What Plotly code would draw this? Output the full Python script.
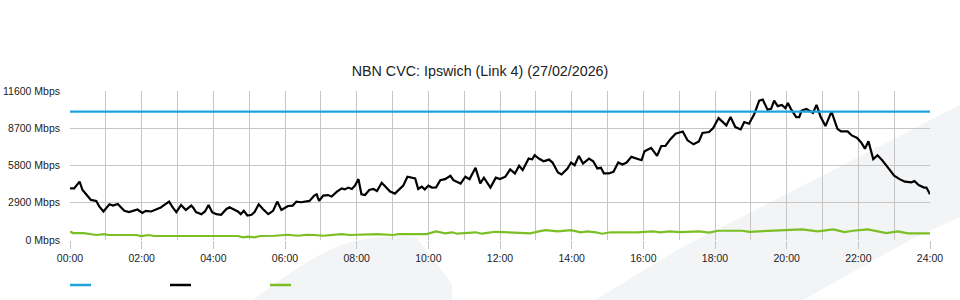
import plotly.graph_objects as go

# ---------------- data ----------------
capacity_minutes = [0, 1440]
capacity_mbps = [10000, 10000]

download_minutes = [
    0, 7, 16, 21, 27, 35, 44, 49, 56, 60, 66, 72, 80, 84, 91, 99, 105, 113, 121, 127,
    136, 144, 152, 158, 166, 172, 178, 186, 194, 203,
    206, 211, 220, 226, 232, 238, 245, 253, 262, 267, 275, 281, 286, 291, 297, 304, 309,
    316, 323, 332, 340, 347, 354, 360, 365, 373, 379, 387, 396, 401, 409,
    413, 417, 424, 432, 438, 447, 455, 460, 466, 472, 477, 483, 488, 494, 501, 508, 514,
    522, 529, 536, 544, 551, 558, 565, 572, 578, 583, 589, 594, 600, 606,
    613, 620, 628, 637, 642, 654, 662, 669, 679, 687, 693, 704, 713, 720, 729, 737, 745,
    752, 758, 768, 774, 778, 785, 793, 802, 808,
    817, 823, 833, 839, 845, 852, 859, 869, 876, 883, 889, 894, 902, 910, 918, 925, 932,
    940, 949, 957, 962, 973, 983, 990, 997, 1005, 1014, 1021,
    1026, 1034, 1044, 1053, 1059, 1070, 1077, 1086, 1093, 1099, 1106, 1114, 1123, 1129,
    1137, 1146, 1154, 1160, 1168, 1174, 1179, 1185, 1192, 1198, 1202, 1207, 1216, 1221,
    1225, 1233, 1244, 1250, 1257, 1265, 1275, 1285, 1291, 1302, 1309, 1318, 1325, 1331,
    1337, 1345, 1352, 1360, 1370, 1380, 1389, 1398, 1409, 1414, 1421, 1430, 1434, 1440,
]
download_mbps = [
    4020, 4020, 4540, 3890, 3560, 3120, 3040, 2610, 2220, 2420, 2780, 2680, 2810, 2610, 2270, 2170, 2270, 2370, 2110, 2270,
    2220, 2370, 2530, 2730, 2990, 2530, 2170, 2730, 2340, 2680,
    2530, 2170, 2010, 2220, 2730, 2170, 2010, 1960, 2420, 2550, 2340, 2220, 2010, 2270, 1910, 1960, 2170,
    2780, 2420, 2010, 2270, 2990, 2340, 2480, 2650, 2680, 2990, 2940, 3040, 3040, 3460,
    3560, 3040, 3460, 3500, 3380, 3770, 4020, 3940, 4080, 3970, 4230, 4740, 3560, 3500, 3890, 3970, 3810,
    4460, 4100, 3770, 3610, 3890, 4230, 4930, 4870, 4790, 3970, 4150, 3940, 4230, 4080,
    4100, 4660, 4740, 5000, 4660, 4390, 4930, 4740, 5620, 4410, 4850, 4080, 4850, 4740, 4930, 5490, 5180,
    5780, 5440, 6340, 6290, 6600, 6340, 6130, 6260, 6030,
    5260, 5100, 5570, 6030, 5820, 6550, 5950, 6340, 6130, 5570, 5620, 5180, 5180, 5310, 6030, 5880, 6030,
    6470, 6340, 6210, 6910, 7170, 6550, 7320, 7320, 7830, 8270, 8410,
    8450, 7760, 7450, 7680, 8330, 8410, 8720, 9490, 9180, 8920, 9570, 8790, 8610, 9180,
    9050, 9820, 10850, 10930, 10150, 10210, 10850, 10420, 10520, 10260, 10670, 10210, 9570, 9570,
    10080, 10210, 9900, 10520, 9570, 8870, 10000, 8660, 8450, 8450, 8140, 7940, 7580, 7110,
    7680, 6290, 6600, 6210, 5620, 5000, 4740, 4540, 4490, 4590, 4280, 4080, 4080, 3560,
]

upload_minutes = [
    0, 5, 23, 35, 44, 57, 65, 111, 119, 132, 141, 204, 281, 290, 298, 309, 318, 343, 365, 382,
    396, 409, 424, 455, 469, 514, 541, 550, 597, 613, 628, 640, 648, 679, 690, 712, 735, 757,
    771, 785, 796, 817, 839, 855, 866, 880, 891, 905, 950, 975, 989, 1003, 1021, 1054, 1070,
    1085, 1126, 1137, 1177, 1193, 1226, 1252, 1278, 1297, 1311, 1336, 1353, 1367, 1386, 1403,
    1425, 1440,
]
upload_mbps = [
    670, 540, 540, 460, 390, 460, 390, 390, 310, 390, 310, 310, 310, 210, 260, 210, 310, 330, 410, 330,
    410, 390, 330, 460, 390, 460, 390, 460, 460, 670, 520, 600, 490, 600, 490, 640, 600, 600,
    520, 670, 770, 670, 770, 600, 670, 600, 490, 600, 600, 670, 600, 670, 620, 670, 570,
    720, 720, 640, 720, 770, 830, 670, 830, 620, 720, 830, 670, 540, 670, 520,
    520, 520,
]

y_ticks = [0, 2900, 5800, 8700, 11600]
y_tick_labels = [f"{v} Mbps" for v in y_ticks]
x_tick_hours = list(range(0, 25, 2))
x_tick_labels = [f"{h:02d}:00" for h in x_tick_hours]
title_text = "NBN CVC: Ipswich (Link 4) (27/02/2026)"

# ---------------- styles ----------------
BLUE = "#1fa3dc"
BLACK = "#000000"
GREEN = "#7bbf25"
GRID = "#c6c6c6"
WATERMARK = "#f3f4f6"
FONT = "Liberation Sans, Arial, sans-serif"


def hours(mins):
    return [m / 60 for m in mins]


fig = go.Figure()
fig.add_trace(go.Scatter(x=hours(upload_minutes), y=upload_mbps, mode="lines",
                         name="Upload", line=dict(color=GREEN, width=2.2)))
fig.add_trace(go.Scatter(x=hours(download_minutes), y=download_mbps, mode="lines",
                         name="Download", line=dict(color=BLACK, width=2.2)))
fig.add_trace(go.Scatter(x=hours(capacity_minutes), y=capacity_mbps, mode="lines",
                         name="Capacity", line=dict(color=BLUE, width=2.2)))

shapes = [
    # background watermark swoosh (decorative)
    dict(type="path", xref="paper", yref="paper", layer="below",
         path="M 0.2128 -0.4027 Q 0.27 -0.15 0.3023 -0.0671 Q 0.33 0.02 0.3837 0.0268 "
              "L 0.4035 0.0134 L 0.4442 -0.2953 L 0.4442 -0.4027 Z",
         fillcolor=WATERMARK, line=dict(width=0)),
    dict(type="path", xref="paper", yref="paper", layer="below",
         path="M 0.6105 -0.4027 L 0.7058 -0.0671 L 1.0349 0.906 L 1.0349 0.1544 "
              "L 0.9767 0.0 L 0.8523 -0.4027 Z",
         fillcolor=WATERMARK, line=dict(width=0)),
]

# legend swatches (no legend text in the original)
for i, col in enumerate([BLUE, BLACK, GREEN]):
    x0 = 0.0 + i * 100 / 860
    shapes.append(dict(type="line", xref="paper", yref="paper",
                       x0=x0, x1=x0 + 21 / 860, y0=-45 / 149, y1=-45 / 149,
                       line=dict(color=col, width=2.5)))

fig.update_layout(
    width=960, height=300,
    margin=dict(l=70, r=30, t=91, b=60, autoexpand=False),
    paper_bgcolor="white",
    plot_bgcolor="rgba(0,0,0,0)",
    showlegend=False,
    font=dict(family=FONT, size=10.5, color="#333333"),
    title=dict(text=title_text, x=0.5, xanchor="center", y=1 - 71 / 300, yanchor="middle",
               yref="container", font=dict(family=FONT, size=14.3, color="#222222")),
    shapes=shapes,
)

fig.update_xaxes(
    range=[0, 24], tickmode="array", tickvals=x_tick_hours, ticktext=x_tick_labels,
    showgrid=True, gridcolor=GRID, gridwidth=1,
    minor=dict(dtick=1, tick0=0, showgrid=True, gridcolor=GRID, gridwidth=1, ticks=""),
    ticks="outside", ticklen=8, tickcolor=GRID, tickwidth=1,
    zeroline=False, showline=False, fixedrange=True, automargin=False,
    tickfont=dict(family=FONT, size=10.5, color="#222222"),
)
fig.update_yaxes(
    range=[0, 11600], tickmode="array", tickvals=y_ticks, ticktext=y_tick_labels,
    showgrid=True, gridcolor=GRID, gridwidth=1,
    zeroline=False, showline=False, ticks="", ticklabelstandoff=9, fixedrange=True,
    automargin=False,
    tickfont=dict(family=FONT, size=10.5, color="#222222"),
)

fig.write_html("out.html")
